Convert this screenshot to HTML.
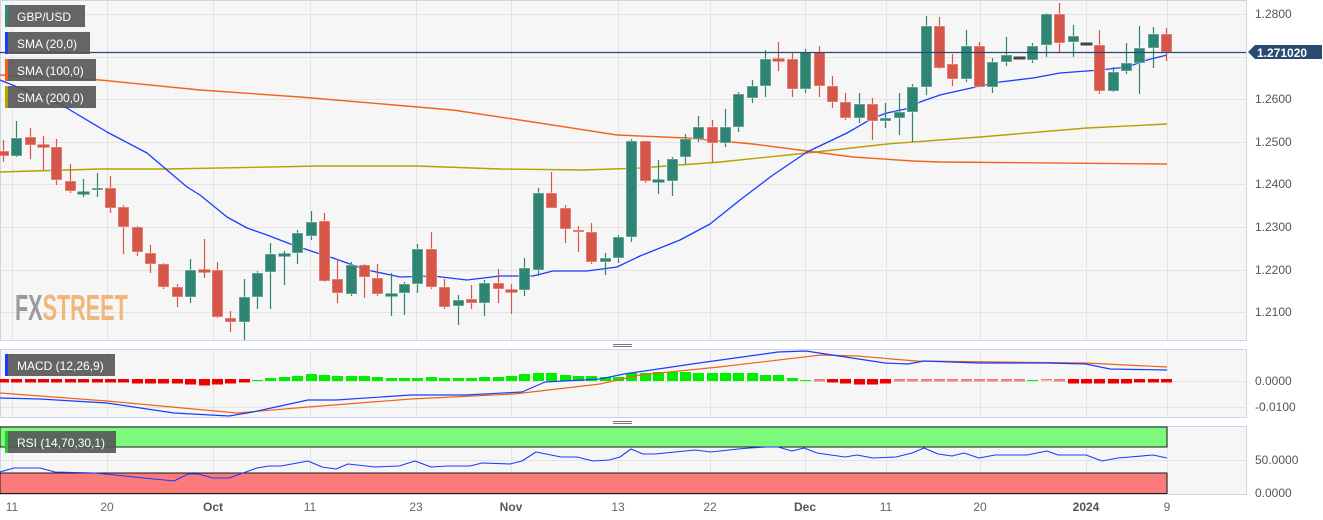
<!DOCTYPE html>
<html><head><meta charset="utf-8"><style>
html,body{margin:0;padding:0;background:#fff;}
svg{display:block;font-family:"Liberation Sans",sans-serif;}
</style></head><body>
<svg id="c" width="1323" height="520" viewBox="0 0 1323 520" xmlns="http://www.w3.org/2000/svg">
<rect x="0" y="0" width="1323" height="520" fill="#fff"/>
<rect x="0.5" y="0.5" width="1246" height="340" fill="#f6f6f6" stroke="#cdd4e6"/>
<rect x="0.5" y="349.5" width="1246" height="68" fill="#f6f6f6" stroke="#cdd4e6"/>
<rect x="0.5" y="426.5" width="1246" height="68" fill="#f6f6f6" stroke="#cdd4e6"/>
<g id="grid" stroke="#e4e4e4" stroke-width="1"></g>
<text x="15" y="320" font-size="36" font-weight="bold" transform="translate(15 0) scale(0.6 1) translate(-15 0)" ><tspan fill="#9a9a9a">FX</tspan><tspan fill="#f0b878">STREET</tspan></text>
<g id="rsiband">
<rect x="0" y="427" width="1167" height="20" fill="#7cfa7c" stroke="#1a1a1a" stroke-width="1"/>
<rect x="0" y="473" width="1167" height="20.5" fill="#fb7b7b" stroke="#1a1a1a" stroke-width="1"/>
</g>
<g id="lines"></g>
<g id="candles"></g>
<line x1="0" y1="52.5" x2="1246" y2="52.5" stroke="#2a4a73" stroke-width="1.3"/>
<path d="M1248 52 L1255 45 L1322 45 L1322 59 L1255 59 Z" fill="#2a4a73"/>
<text x="1257" y="57" font-size="12" font-weight="bold" fill="#fff">1.271020</text>
<g font-size="12" fill="#555">
<text x="1255" y="18">1.2800</text>
<text x="1255" y="103">1.2600</text>
<text x="1255" y="146">1.2500</text>
<text x="1255" y="188">1.2400</text>
<text x="1255" y="231">1.2300</text>
<text x="1255" y="274">1.2200</text>
<text x="1255" y="316">1.2100</text>
<text x="1255" y="385">0.0000</text>
<text x="1255" y="411">-0.0100</text>
<text x="1255" y="464">50.0000</text>
<text x="1255" y="497">0.0000</text>
</g>
<g font-size="12" fill="#666" text-anchor="middle">
<text x="12" y="511">11</text><text x="107" y="511">20</text>
<text x="213" y="511" font-weight="bold" fill="#555">Oct</text>
<text x="310" y="511">11</text><text x="416" y="511">23</text>
<text x="511" y="511" font-weight="bold" fill="#555">Nov</text>
<text x="618" y="511">13</text><text x="710" y="511">22</text>
<text x="805" y="511" font-weight="bold" fill="#555">Dec</text>
<text x="886" y="511">11</text><text x="980" y="511">20</text>
<text x="1086" y="511" font-weight="bold" fill="#555">2024</text>
<text x="1167" y="511">9</text>
</g>
<g stroke="#777" stroke-width="1">
<line x1="613" y1="344.5" x2="632" y2="344.5"/><line x1="613" y1="346.5" x2="632" y2="346.5"/>
<line x1="613" y1="421.5" x2="632" y2="421.5"/><line x1="613" y1="423.5" x2="632" y2="423.5"/>
</g>
<g font-size="12" fill="#fff">
<rect x="5" y="5" width="80" height="22" fill="#555" fill-opacity="0.9"/><rect x="5" y="5" width="3" height="22" fill="#2e8b74"/>
<text x="17" y="21">GBP/USD</text>
<rect x="5" y="32" width="85" height="22" fill="#555" fill-opacity="0.9"/><rect x="5" y="32" width="3" height="22" fill="#1a3cff"/>
<text x="17" y="48">SMA (20,0)</text>
<rect x="5" y="59" width="91" height="22" fill="#555" fill-opacity="0.9"/><rect x="5" y="59" width="3" height="22" fill="#f06010"/>
<text x="17" y="75">SMA (100,0)</text>
<rect x="5" y="86" width="91" height="22" fill="#555" fill-opacity="0.9"/><rect x="5" y="86" width="3" height="22" fill="#b8a000"/>
<text x="17" y="102">SMA (200,0)</text>
<rect x="5" y="354" width="110" height="22" fill="#555" fill-opacity="0.9"/><rect x="5" y="354" width="3" height="22" fill="#1a3cff"/>
<text x="17" y="370">MACD (12,26,9)</text>
<rect x="5" y="431" width="111" height="22" fill="#555" fill-opacity="0.9"/><rect x="5" y="431" width="3" height="22" fill="#22cc22"/>
<text x="17" y="447">RSI (14,70,30,1)</text>
</g>
</svg>
<script>
var NS="http://www.w3.org/2000/svg";
function el(p,t,a){var e=document.createElementNS(NS,t);for(var k in a)e.setAttribute(k,a[k]);p.appendChild(e);return e;}
var grid=document.getElementById('grid');
[12,107,213,310,416,511,618,710,805,886,980,1086,1167].forEach(function(x){
 el(grid,'line',{x1:x+.5,y1:1,x2:x+.5,y2:340});el(grid,'line',{x1:x+.5,y1:350,x2:x+.5,y2:417});el(grid,'line',{x1:x+.5,y1:427,x2:x+.5,y2:494});});
[14,57,99,142,184,227,270,312].forEach(function(y){el(grid,'line',{x1:1,y1:y+.5,x2:1246,y2:y+.5});});
[381,407].forEach(function(y){el(grid,'line',{x1:1,y1:y+.5,x2:1246,y2:y+.5});});
[460].forEach(function(y){el(grid,'line',{x1:1,y1:y+.5,x2:1246,y2:y+.5});});
var C=[[151,156,140,162],[156,138,121,157],[137,145,128,159],[145,145,136,170],[147,180,139,185],[181,191,164,193],[192,192,179,197],[190,188,173,197],[188,208,176,213],[207,227,205,254],
[227,252,226,256],[253,264,245,273],[264,287,263,289],[287,297,284,307],[297,270,259,303],[270,270,239,278],[270,317,262,318],[318,322,311,332],[322,297,279,340],[297,273,271,309],
[272,254,243,309],[254,254,251,285],[253,233,230,264],[236,222,211,240],[221,281,213,282],[279,293,259,303],[294,265,262,296],[265,277,264,298],[278,294,264,296],[294,294,273,316],
[293,284,282,315],[284,249,244,293],[249,287,232,289],[287,307,279,309],[306,300,295,325],[299,303,285,309],[303,283,280,316],[283,289,269,303],[290,290,284,314],[290,268,258,296],
[270,193,188,276],[193,208,172,208],[208,229,205,243],[230,231,226,252],[232,262,223,264],[262,258,253,275],[258,237,235,263],[237,141,139,242],[141,181,141,183],[180,180,160,194],
[181,159,157,196],[157,139,134,164],[139,127,116,142],[127,143,120,163],[143,127,109,147],[127,94,92,132],[98,86,80,103],[86,59,50,97],[59,59,42,71],[59,89,52,97],
[89,52,49,93],[52,86,46,97],[86,102,76,108],[102,118,93,120],[118,104,93,123],[104,121,98,140],[121,118,103,128],[118,112,93,135],[112,87,84,142],[87,26,16,95],
[26,68,17,69],[64,79,54,86],[79,46,30,82],[46,87,42,87],[87,62,58,93],[62,55,37,66],[57,57,57,57],[60,46,43,63],[45,14,13,57],[14,43,3,52],
[42,36,25,57],[43,43,43,43],[45,91,30,94],[91,72,67,92],[71,63,43,74],[63,48,26,94],[48,34,27,68],[34,52,28,61]];
var cg=document.getElementById('candles');
C.forEach(function(c,i){
 var x=Math.round(3+i*13.37);var up=c[1]<c[0];var dj=Math.abs(c[1]-c[0])<1;
 var col=(i==76||i==81)?'#444':(up?'#2f8573':'#d6574a');
 if(dj&&[6,7,21,29,30,49,66].indexOf(i)>=0) col='#2f8573';
 el(cg,'line',{x1:x+.5,y1:c[2],x2:x+.5,y2:c[3],stroke:col,'stroke-width':1.2});
 var t=Math.min(c[0],c[1]),h=Math.max(Math.abs(c[1]-c[0]),2);
 el(cg,'rect',{x:x-5,y:t,width:11,height:h,fill:col,stroke:dj?col:'rgba(255,255,255,0.45)','stroke-width':1});
});
var lg=document.getElementById('lines');
function pl(pts,col,w){el(lg,'polyline',{points:pts.map(function(p){return p.join(',')}).join(' '),fill:'none',stroke:col,'stroke-width':w||1.3,'stroke-linejoin':'round'});}
pl([[0,172],[100,169],[167,169],[320,166],[417,166],[500,169],[583,170],[640,168],[720,162],[807,153],[887,144],[980,137],[1087,128],[1167,124]],'#b5a100',1.4);
pl([[0,75],[100,80],[200,90],[300,97],[453,110],[533,122],[617,135],[687,138],[753,144],[807,151],[853,157],[913,161],[940,162],[1167,164]],'#f0641a',1.4);
pl([[0,80],[60,104],[107,132],[147,153],[167,170],[187,187],[200,195],[227,217],[247,228],[267,235],[293,245],[320,254],[333,258],[367,270],[400,277],[433,276],[467,280],[500,276],[533,276],[553,271],[587,271],[617,267],[640,256],[680,240],[710,224],[740,200],[773,175],[807,152],[847,133],[873,118],[887,113],[910,108],[920,102],[940,95],[980,86],[1000,82],[1033,78],[1060,73],[1100,70],[1127,67],[1147,60],[1167,55]],'#1a3cff',1.3);
var H={};
for(var i=0;i<19;i++)H[i]=-3;
H[10]=-4;H[11]=-4;H[12]=-4;H[13]=-4;H[14]=-5;H[15]=-6;H[16]=-5;H[17]=-4;H[18]=-3;
var G=[1,3,4,5,7,6,5,5,5,4,3,3,3,4,3,3,3,4,4,5,7,8,8,6,5,5,4,4,8,8,9,9,9,8,8,8,8,8,6,6,3,1];
for(var j=0;j<G.length;j++)H[19+j]=G[j];
var R=[-2,-3,-4,-5,-5,-4,-2,-2,-2,-2,-2,-2,-2,-2,-2,-2,1,-1,-2,-4,-4,-4,-4,-4,-3,-3,-3];
for(var j=0;j<R.length;j++)H[61+j]=R[j];
for(var k=0;k<88;k++){var v=H[k];if(v===undefined)continue;var x=Math.round(3+k*13.37);
 if(v>0)el(lg,'rect',{x:x-5,y:381-v,width:11,height:v,fill:'#00ee00'});
 else el(lg,'rect',{x:x-5,y:379,width:11,height:-v+0.5,fill:(Math.abs(v)<=2?'#f08080':'#ee0000')});}
pl([[0,393],[107,401],[237,413],[308,407],[411,399],[514,394],[600,384],[640,375],[719,367],[821,355],[857,356],[916,361],[1086,363],[1167,367]],'#f0641a',1.2);
pl([[0,398],[40,399],[107,403],[174,413],[229,416],[253,412],[308,400],[336,400],[411,395],[466,395],[522,392],[545,382],[600,379],[624,374],[699,363],[778,352],[806,351],[885,363],[908,364],[924,361],[979,363],[1047,363],[1086,364],[1110,369],[1167,370]],'#1a3cff',1.2);
pl([[0,472],[14,468],[40,468],[55,472],[95,473],[134,477],[174,481],[188,474],[198,474],[213,478],[229,478],[257,468],[269,466],[281,466],[308,461],[322,467],[336,469],[348,464],[375,467],[399,466],[415,461],[431,467],[447,466],[470,466],[482,463],[510,464],[522,461],[536,452],[561,457],[577,457],[593,461],[609,460],[620,457],[631,449],[643,454],[655,454],[695,450],[711,452],[738,449],[750,448],[766,447],[778,447],[792,451],[804,448],[817,453],[845,457],[857,455],[873,458],[896,457],[912,453],[924,448],[938,454],[952,456],[964,453],[979,458],[995,455],[1027,455],[1047,451],[1058,455],[1086,455],[1102,461],[1118,458],[1153,455],[1167,458]],'#1a3cff',1.1);
</script>
</body></html>
